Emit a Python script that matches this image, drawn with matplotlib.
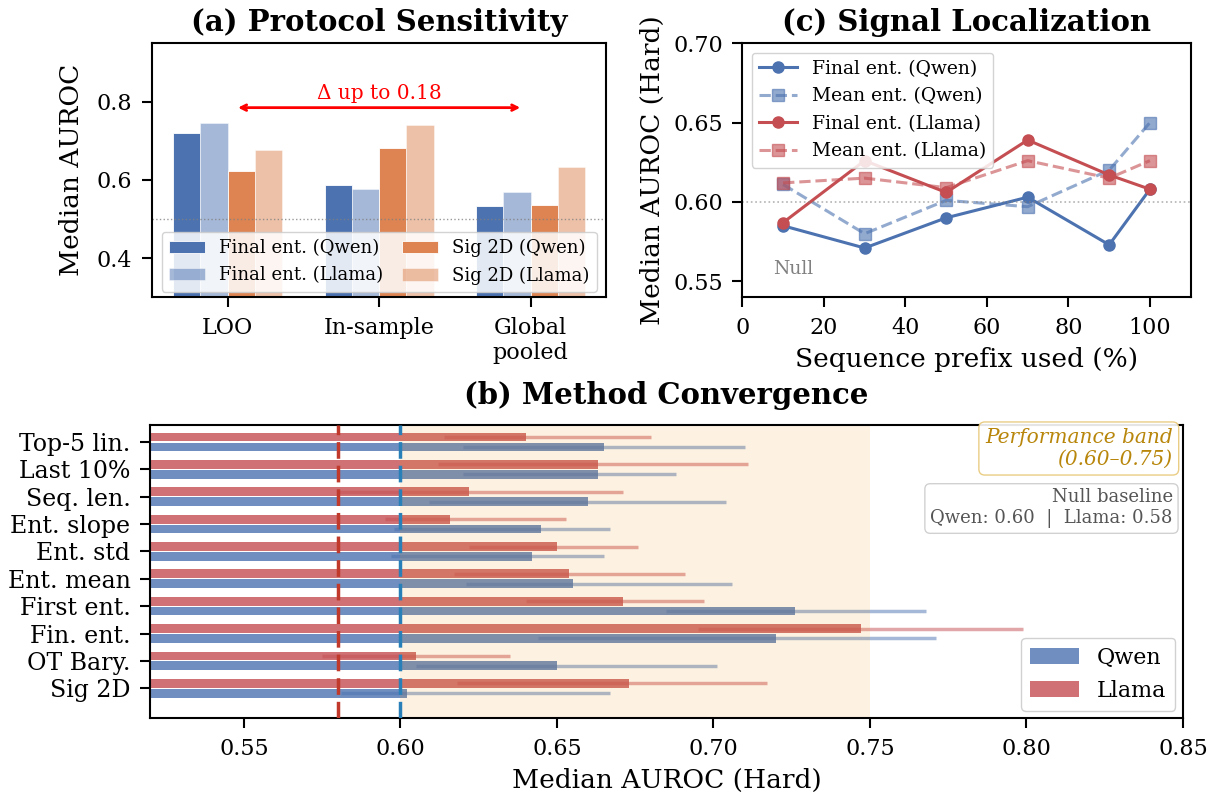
import numpy as np
import matplotlib
matplotlib.use('Agg')
import matplotlib.pyplot as plt
from matplotlib.patches import Patch

plt.rcParams['font.family'] = 'serif'
plt.rcParams['font.serif'] = ['DejaVu Serif']
plt.rcParams['axes.linewidth'] = 1.5
plt.rcParams['axes.labelpad'] = 6
for ax_name in ['xtick', 'ytick']:
    plt.rcParams[ax_name + '.major.size'] = 7.5
    plt.rcParams[ax_name + '.major.width'] = 1.5
    plt.rcParams[ax_name + '.major.pad'] = 6.5

BLUE = '#4c72b0'
RED = '#c44e52'
ORANGE = '#dd8452'

# (a) Protocol sensitivity
protocols = ['LOO', 'In-sample', 'Global\npooled']
final_qwen = [0.719, 0.586, 0.534]
final_llama = [0.745, 0.577, 0.569]
sig_qwen = [0.624, 0.683, 0.536]
sig_llama = [0.676, 0.740, 0.634]

# (c) Signal localization
prefix = [10, 30, 50, 70, 90, 100]
fin_qwen_c = [0.585, 0.571, 0.590, 0.603, 0.573, 0.608]
mean_qwen_c = [0.611, 0.580, 0.601, 0.597, 0.620, 0.650]
fin_llama_c = [0.587, 0.626, 0.606, 0.639, 0.617, 0.608]
mean_llama_c = [0.612, 0.615, 0.609, 0.626, 0.615, 0.626]

# (b) Method convergence (bottom to top)
methods = ['Sig 2D', 'OT Bary.', 'Fin. ent.', 'First ent.', 'Ent. mean',
           'Ent. std', 'Ent. slope', 'Seq. len.', 'Last 10%', 'Top-5 lin.']
qwen_med = [0.602, 0.650, 0.720, 0.726, 0.655, 0.642, 0.645, 0.660, 0.663, 0.665]
qwen_lo = [0.581, 0.605, 0.644, 0.685, 0.621, 0.597, 0.598, 0.609, 0.620, 0.620]
qwen_hi = [0.667, 0.701, 0.771, 0.768, 0.706, 0.665, 0.667, 0.704, 0.688, 0.710]
llama_med = [0.673, 0.605, 0.747, 0.671, 0.654, 0.650, 0.616, 0.622, 0.663, 0.640]
llama_lo = [0.618, 0.575, 0.695, 0.640, 0.617, 0.622, 0.595, 0.580, 0.612, 0.614]
llama_hi = [0.717, 0.635, 0.799, 0.697, 0.691, 0.676, 0.653, 0.671, 0.711, 0.680]

null_qwen = 0.60
null_llama = 0.58

fig = plt.figure(figsize=(12.25, 7.99), dpi=100)

# ---------------- panel (a)
ax1 = fig.add_axes([0.124, 0.628, 0.371, 0.318])
x = np.arange(len(protocols))
w = 0.18
ax1.bar(x - 1.5 * w, final_qwen, w, color=BLUE, edgecolor='white', linewidth=0.6, label='Final ent. (Qwen)')
ax1.bar(x - 0.5 * w, final_llama, w, color=BLUE, alpha=0.5, edgecolor='white', linewidth=0.6, label='Final ent. (Llama)')
ax1.bar(x + 0.5 * w, sig_qwen, w, color=ORANGE, edgecolor='white', linewidth=0.6, label='Sig 2D (Qwen)')
ax1.bar(x + 1.5 * w, sig_llama, w, color=ORANGE, alpha=0.5, edgecolor='white', linewidth=0.6, label='Sig 2D (Llama)')
ax1.axhline(0.5, color='gray', ls=':', lw=1, alpha=0.8)
ax1.annotate('', xy=(1.95, 0.785), xytext=(0.05, 0.785),
             arrowprops=dict(arrowstyle='<->', color='red', lw=2))
ax1.text(1.0, 0.797, 'Δ up to 0.18', color='red', ha='center', va='bottom', fontsize=14.5)
ax1.set_xticks(x)
ax1.set_xticklabels(protocols, fontsize=16)
ax1.set_xlim(-0.5, 2.5)
ax1.set_ylim(0.30, 0.95)
ax1.set_yticks([0.4, 0.6, 0.8])
ax1.tick_params(axis='y', labelsize=16)
ax1.set_ylabel('Median AUROC', fontsize=19, labelpad=9)
ax1.set_title('(a) Protocol Sensitivity', fontsize=21, fontweight='bold', pad=9)
ax1.legend(loc='lower center', ncol=2, fontsize=13, framealpha=0.85,
           columnspacing=1.0, handletextpad=0.8, borderaxespad=0.3)

# ---------------- panel (c)
ax3 = fig.add_axes([0.606, 0.628, 0.366, 0.318])
ax3.plot(prefix, fin_qwen_c, '-o', color=BLUE, lw=2.2, ms=8, label='Final ent. (Qwen)')
ax3.plot(prefix, mean_qwen_c, '--s', color=BLUE, lw=2.2, ms=8, alpha=0.6, label='Mean ent. (Qwen)')
ax3.plot(prefix, fin_llama_c, '-o', color=RED, lw=2.2, ms=8, label='Final ent. (Llama)')
ax3.plot(prefix, mean_llama_c, '--s', color=RED, lw=2.2, ms=8, alpha=0.6, label='Mean ent. (Llama)')
ax3.axhline(0.60, color='gray', ls=':', lw=1.2, alpha=0.6)
ax3.text(12.5, 0.5545, 'Null', color='gray', fontsize=13.5, ha='center')
ax3.set_xlim(0, 110)
ax3.set_ylim(0.54, 0.70)
ax3.set_yticks([0.55, 0.60, 0.65, 0.70])
ax3.tick_params(labelsize=16)
ax3.set_xlabel('Sequence prefix used (%)', fontsize=19)
ax3.set_ylabel('Median AUROC (Hard)', fontsize=19)
ax3.set_title('(c) Signal Localization', fontsize=21, fontweight='bold', pad=9)
ax3.legend(loc='upper left', fontsize=13.5, framealpha=0.85)

# ---------------- panel (b)
ax2 = fig.add_axes([0.1224, 0.101, 0.8433, 0.367])
y = np.arange(len(methods))
h = 0.32
off = 0.18
qwen_med = np.array(qwen_med)
llama_med = np.array(llama_med)
ax2.barh(y - off, qwen_med, h, color=BLUE, alpha=0.8, label='Qwen')
ax2.barh(y + off, llama_med, h, color=RED, alpha=0.8, label='Llama')
ax2.errorbar(qwen_med, y - off,
             xerr=[qwen_med - np.array(qwen_lo), np.array(qwen_hi) - qwen_med],
             fmt='none', ecolor=BLUE, elinewidth=2.5, alpha=0.5, capsize=0)
ax2.errorbar(llama_med, y + off,
             xerr=[llama_med - np.array(llama_lo), np.array(llama_hi) - llama_med],
             fmt='none', ecolor=RED, elinewidth=2.5, alpha=0.5, capsize=0)
ax2.axvspan(0.60, 0.75, color='#f39c12', alpha=0.12, lw=0, zorder=2)
ax2.axvline(null_llama, color='#c0392b', ls='--', lw=2.5, dashes=(4.8, 2), zorder=3)
ax2.axvline(null_qwen, color='#2980b9', ls='--', lw=2.5, dashes=(4.8, 2), zorder=3)
ax2.set_yticks(y)
ax2.set_yticklabels(methods, fontsize=17)
ax2.set_xlim(0.52, 0.85)
ax2.set_ylim(-1.1, 9.62)
ax2.tick_params(axis='x', labelsize=16)
ax2.set_xlabel('Median AUROC (Hard)', fontsize=19)
ax2.set_title('(b) Method Convergence', fontsize=21, fontweight='bold', pad=15)
ax2.text(0.99, 0.99, 'Performance band\n(0.60–0.75)', transform=ax2.transAxes,
         ha='right', va='top', fontsize=14.5, style='italic', color='#b8860b',
         bbox=dict(boxstyle='round,pad=0.3', facecolor='white', edgecolor='#e8c878', alpha=0.9))
ax2.text(0.99, 0.785, 'Null baseline\nQwen: 0.60  |  Llama: 0.58', transform=ax2.transAxes,
         ha='right', va='top', fontsize=13, color='#555555',
         bbox=dict(boxstyle='round,pad=0.3', facecolor='white', edgecolor='#cccccc', alpha=0.9))
handles = [Patch(facecolor=BLUE, alpha=0.8), Patch(facecolor=RED, alpha=0.8)]
ax2.legend(handles, ['Qwen', 'Llama'], loc='lower right', fontsize=16, framealpha=0.9,
           handlelength=2.2, borderaxespad=0.35)

fig.savefig('out.png', dpi=100)
